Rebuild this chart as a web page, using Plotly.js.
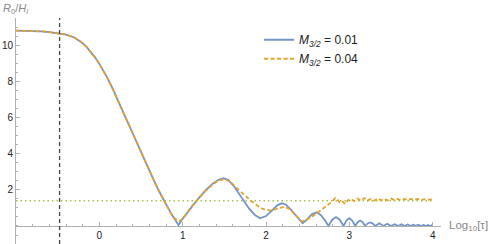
<!DOCTYPE html>
<html>
<head>
<meta charset="utf-8">
<script src="https://cdn.plot.ly/plotly-3.0.1.min.js"></script>
<style>html,body{margin:0;padding:0;background:#fff;}#chart{width:491px;height:244px;}</style>
</head>
<body>
<div id="chart"></div>
<script>
// log10(tau) positions and values
const headX = [-1, -0.9, -0.8, -0.7, -0.6, -0.5, -0.4, -0.3, -0.25, -0.2, -0.15, -0.1, -0.05, 0, 0.05, 0.1, 0.15, 0.2, 0.25, 0.3, 0.35, 0.45, 0.55, 0.65, 0.72, 0.8, 0.87];
const headY = [10.85, 10.845, 10.83, 10.81, 10.77, 10.72, 10.63, 10.47, 10.33, 10.15, 9.93, 9.66, 9.35, 9.0, 8.62, 8.2, 7.72, 7.2, 6.66, 6.18, 5.71, 4.66, 3.6, 2.58, 1.9, 1.18, 0.62];

const blueTailX = [0.91, 0.95, 0.99, 1.05, 1.12, 1.2, 1.28, 1.36, 1.43, 1.49, 1.55, 1.62, 1.68, 1.73, 1.8, 1.87, 1.93, 2.0, 2.08, 2.14, 2.19, 2.24, 2.3, 2.37, 2.44, 2.49, 2.55, 2.61, 2.66, 2.71, 2.75,
  2.795, 2.84, 2.885, 2.93, 2.965, 3.0, 3.035, 3.07, 3.10, 3.13, 3.16, 3.19, 3.22, 3.25, 3.28, 3.31, 3.36, 3.41, 3.455, 3.50, 3.545, 3.585, 3.625, 3.665, 3.70, 3.735, 3.77, 3.80, 3.83, 3.86, 3.89, 3.92, 3.945, 3.97, 3.995, 4.0];
const blueTailY = [0.34, 0.05, 0.33, 0.72, 1.13, 1.58, 2.0, 2.35, 2.57, 2.65, 2.55, 2.18, 1.78, 1.39, 0.95, 0.6, 0.43, 0.55, 0.92, 1.16, 1.26, 1.18, 0.9, 0.5, 0.15, 0.35, 0.65, 0.76, 0.6, 0.3, 0.0,
  0.35, 0.5, 0.35, 0.0, 0.3, 0.43, 0.3, 0.0, 0.21, 0.3, 0.21, 0.0, 0.14, 0.2, 0.14, 0.0, 0.15, 0.0, 0.12, 0.0, 0.1, 0.0, 0.09, 0.0, 0.08, 0.0, 0.07, 0.0, 0.065, 0.0, 0.06, 0.0, 0.055, 0.0, 0.05, 0.04];

const orangeTailX = [0.91, 0.96, 1.01, 1.06, 1.12, 1.2, 1.28, 1.36, 1.43, 1.5, 1.57, 1.65, 1.73, 1.82, 1.9, 1.97, 2.05, 2.14, 2.22, 2.28, 2.35, 2.43, 2.5, 2.56, 2.61, 2.68, 2.74, 2.8, 2.83, 2.86, 2.89, 2.92, 2.95, 2.98, 3.02, 3.06, 3.1, 3.14, 3.18, 3.22, 3.26, 3.3, 3.34, 3.38, 3.42, 3.46, 3.5, 3.54, 3.58, 3.62, 3.66, 3.7, 3.74, 3.78, 3.82, 3.86, 3.9, 3.94, 3.98, 4.0];
const orangeTailY = [0.4, 0.26, 0.45, 0.78, 1.15, 1.58, 1.98, 2.3, 2.52, 2.6, 2.47, 2.1, 1.75, 1.4, 1.12, 0.93, 0.86, 0.98, 1.07, 0.95, 0.6, 0.25, 0.38, 0.55, 0.7, 0.95, 1.15, 1.38, 1.55, 1.45, 1.28, 1.35, 1.22, 1.42, 1.5, 1.38, 1.52, 1.4, 1.55, 1.42, 1.5, 1.4, 1.53, 1.43, 1.5, 1.42, 1.52, 1.44, 1.5, 1.43, 1.5, 1.44, 1.5, 1.45, 1.5, 1.45, 1.49, 1.45, 1.48, 1.46];

const refLevel = 1.4;       // dotted horizontal level
const refTau = -0.477;      // dashed vertical marker
const xTickVals = [0, 1, 2, 3, 4];
const yTickVals = [2, 4, 6, 8, 10];
const seriesNames = ['<i>M<sub>3/2</sub></i> = 0.01', '<i>M<sub>3/2</sub></i> = 0.04'];

const xRange = [-1, 4.1];
const yRange = [-1, 11.55];

const traces = [
  {x: [xRange[0], 4], y: [refLevel, refLevel], mode: 'lines', showlegend: false, hoverinfo: 'skip',
   line: {color: '#a6c24c', width: 1.5, dash: '1.5px,3px'}},
  {x: headX.concat(blueTailX), y: headY.concat(blueTailY), mode: 'lines', name: seriesNames[0],
   line: {color: '#7394c8', width: 1.8}},
  {x: headX.concat(orangeTailX), y: headY.concat(orangeTailY), mode: 'lines', name: seriesNames[1],
   line: {color: '#e5a12c', width: 1.8, dash: '4px,2.5px'}}
];

const axColor = '#b0b0b0';
const layout = {
  width: 491, height: 244,
  margin: {l: 16, r: 50, t: 18, b: 0},
  paper_bgcolor: '#fff', plot_bgcolor: '#fff',
  font: {family: 'Liberation Sans, Arial, sans-serif', size: 10, color: '#222'},
  showlegend: true,
  legend: {x: 0.572, y: 0.968, xanchor: 'left', yanchor: 'top', bgcolor: 'rgba(0,0,0,0)',
           font: {size: 12, color: '#222'}, tracegroupgap: 0},
  xaxis: {range: xRange, anchor: 'free', position: (0 - yRange[0]) / (yRange[1] - yRange[0]),
          showgrid: false, zeroline: false, showline: true, linecolor: axColor, linewidth: 1,
          tickmode: 'array', tickvals: xTickVals, ticks: 'inside', ticklen: 4, tickcolor: axColor,
          minor: {tickmode: 'linear', tick0: 0, dtick: 0.2, ticks: 'inside', ticklen: 2, tickcolor: axColor},
          tickfont: {size: 10, color: '#222'}},
  yaxis: {range: yRange, showgrid: false, zeroline: false, showline: true, linecolor: axColor, linewidth: 1,
          tickmode: 'array', tickvals: yTickVals, ticks: 'inside', ticklen: 4, tickcolor: axColor,
          minor: {tickmode: 'linear', tick0: 0, dtick: 0.5, ticks: 'inside', ticklen: 2, tickcolor: axColor},
          tickfont: {size: 10, color: '#222'}},
  shapes: [
    {type: 'line', xref: 'x', yref: 'paper', x0: refTau, x1: refTau, y0: 0, y1: 1,
     line: {color: '#444', width: 1.3, dash: '4px,3px'}}
  ],
  annotations: [
    {text: '<i>R</i><sub>0</sub>/<i>H</i><sub><i>i</i></sub>', xref: 'paper', yref: 'paper', x: -0.035, y: 1.0,
     xanchor: 'left', yanchor: 'bottom', showarrow: false, font: {size: 11, color: '#888'}},
    {text: 'Log<sub>10</sub>[τ]', xref: 'paper', yref: 'y', x: 1.014, y: 0, xanchor: 'left', yanchor: 'middle',
     showarrow: false, font: {size: 11.5, color: '#888'}}
  ]
};

Plotly.newPlot('chart', traces, layout, {displayModeBar: false, staticPlot: true});
</script>
</body>
</html>
